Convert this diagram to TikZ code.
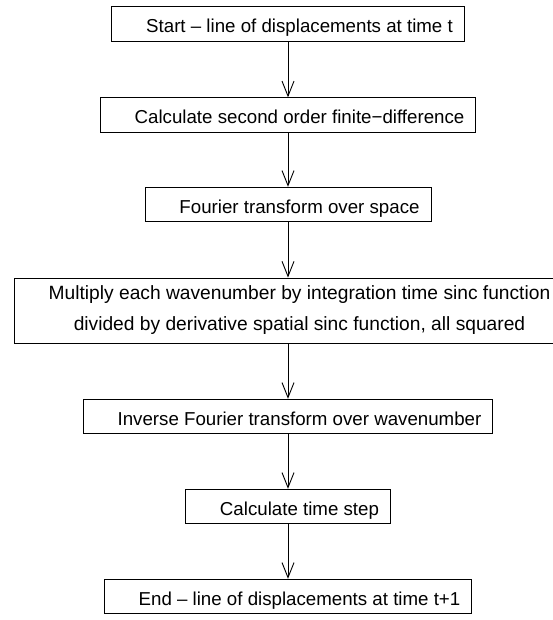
\documentclass[tikz,border=0pt]{standalone}
\usepackage{fontspec}
\setmainfont{Liberation Sans}
\usetikzlibrary{arrows.meta}

\tikzset{
  stepbox/.style={draw=black, line width=0.9pt, fill=white,
    font=\fontsize{18.7pt}{22pt}\selectfont,
    inner xsep=11.5pt, inner ysep=0pt,
    text height=22pt, text depth=4pt,
    minimum height=34.5pt, anchor=center},
  widebox/.style={stepbox, align=center,
    font=\fontsize{19.2pt}{31pt}\selectfont,
    text height=, text depth=, minimum height=65pt},
  flow/.style={draw=black, line width=0.9pt,
    -{Straight Barb[length=15pt, width=12pt, line width=0.9pt]}},
}
% left padding is wider than the right one
\newcommand{\lpad}{\hspace*{23pt}}

\begin{document}
\begin{tikzpicture}[x=1pt, y=1pt]
  \useasboundingbox (0,0) rectangle (553,-620);
  \clip (0,0) rectangle (553,-620);
  \fill[white] (0,0) rectangle (553,-620);

  \node[stepbox] (start) at (288,-24)
    {\lpad Start -- line of displacements at time t};
  \node[stepbox] (fd) at (288,-115)
    {\lpad Calculate second order finite−difference};
  \node[stepbox] (fft) at (288,-204.5)
    {\lpad Fourier transform over space};
  \node[widebox] (mult) at (288,-310.5)
    {\lpad Multiply each wavenumber by integration time sinc function\\
     \lpad divided by derivative spatial sinc function, all squared};
  \node[stepbox] (ifft) at (288,-416.5)
    {\lpad Inverse Fourier transform over wavenumber};
  \node[stepbox] (tstep) at (288,-506.5)
    {\lpad Calculate time step};
  \node[stepbox] (end) at (288,-596.5)
    {\lpad End -- line of displacements at time t+1};

  \draw[flow] (start.south) -- (fd.north);
  \draw[flow] (fd.south) -- (fft.north);
  \draw[flow] (fft.south) -- (mult.north);
  \draw[flow] (mult.south) -- (ifft.north);
  \draw[flow] (ifft.south) -- (tstep.north);
  \draw[flow] (tstep.south) -- (end.north);
\end{tikzpicture}
\end{document}
